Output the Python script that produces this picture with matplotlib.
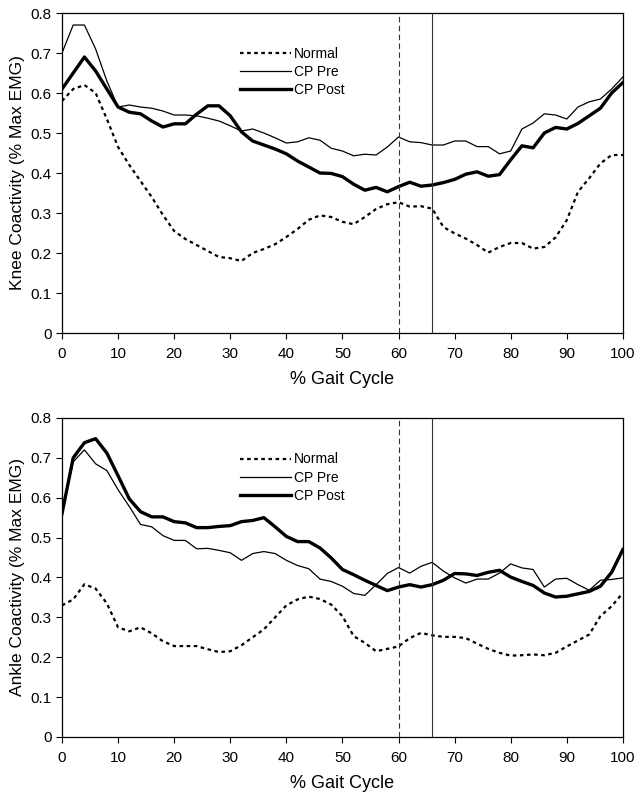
"""
Knee and ankle coactivity over the gait cycle: Normal vs CP Pre vs CP Post.
"""
import matplotlib
matplotlib.use("Agg")
import matplotlib.pyplot as plt
import numpy as np

plt.rcParams["font.family"] = ["Liberation Sans", "DejaVu Sans"]

# =============================================================================
# Data (every 2 % of the gait cycle)
# =============================================================================

gait = np.arange(0, 101, 2)

knee_normal = [0.58, 0.61, 0.62, 0.60, 0.535, 0.465, 0.42, 0.38, 0.34, 0.295,
               0.255, 0.235, 0.22, 0.205, 0.19, 0.187, 0.18, 0.20, 0.21, 0.222,
               0.24, 0.26, 0.283, 0.294, 0.29, 0.278, 0.272, 0.29, 0.31, 0.322,
               0.327, 0.316, 0.317, 0.311, 0.265, 0.249, 0.236, 0.22, 0.201, 0.215,
               0.225, 0.225, 0.211, 0.215, 0.239, 0.282, 0.353, 0.387, 0.424, 0.445,
               0.445]
knee_pre = [0.70, 0.77, 0.77, 0.71, 0.63, 0.565, 0.57, 0.565, 0.562, 0.555,
            0.545, 0.545, 0.543, 0.537, 0.53, 0.518, 0.505, 0.51, 0.50, 0.488,
            0.475, 0.478, 0.488, 0.482, 0.462, 0.455, 0.443, 0.447, 0.445, 0.465,
            0.49, 0.478, 0.476, 0.47, 0.47, 0.48, 0.48, 0.466, 0.466, 0.448,
            0.455, 0.51, 0.525, 0.548, 0.545, 0.535, 0.565, 0.578, 0.585, 0.61,
            0.64]
knee_post = [0.61, 0.65, 0.69, 0.655, 0.61, 0.565, 0.552, 0.548, 0.53, 0.515,
             0.523, 0.523, 0.547, 0.568, 0.568, 0.543, 0.503, 0.48, 0.47, 0.46,
             0.448, 0.43, 0.415, 0.40, 0.399, 0.391, 0.372, 0.357, 0.364, 0.353,
             0.366, 0.377, 0.367, 0.37, 0.376, 0.384, 0.397, 0.403, 0.392, 0.396,
             0.433, 0.468, 0.463, 0.50, 0.514, 0.51, 0.524, 0.543, 0.562, 0.60,
             0.626]

ankle_normal = [0.33, 0.345, 0.383, 0.372, 0.335, 0.275, 0.265, 0.275, 0.26, 0.24,
                0.228, 0.228, 0.228, 0.22, 0.213, 0.215, 0.23, 0.25, 0.27, 0.30,
                0.33, 0.345, 0.352, 0.346, 0.332, 0.303, 0.253, 0.236, 0.215, 0.221,
                0.227, 0.248, 0.261, 0.255, 0.251, 0.251, 0.248, 0.234, 0.221, 0.211,
                0.204, 0.205, 0.207, 0.205, 0.211, 0.227, 0.242, 0.257, 0.303, 0.328,
                0.361]
ankle_pre = [0.56, 0.69, 0.72, 0.685, 0.668, 0.62, 0.578, 0.533, 0.527, 0.505,
             0.493, 0.493, 0.472, 0.473, 0.468, 0.462, 0.443, 0.46, 0.465, 0.46,
             0.443, 0.43, 0.422, 0.396, 0.39, 0.378, 0.36, 0.355, 0.382, 0.41,
             0.425, 0.411, 0.428, 0.438, 0.416, 0.399, 0.386, 0.396, 0.396, 0.411,
             0.434, 0.424, 0.42, 0.376, 0.396, 0.398, 0.382, 0.368, 0.393, 0.395,
             0.399]
ankle_post = [0.56, 0.70, 0.738, 0.748, 0.712, 0.655, 0.597, 0.565, 0.552, 0.552,
              0.54, 0.537, 0.525, 0.525, 0.528, 0.53, 0.54, 0.543, 0.55, 0.527,
              0.503, 0.49, 0.49, 0.474, 0.449, 0.42, 0.407, 0.393, 0.38, 0.367,
              0.376, 0.382, 0.376, 0.382, 0.393, 0.41, 0.409, 0.405, 0.413, 0.418,
              0.401, 0.39, 0.38, 0.361, 0.351, 0.353, 0.359, 0.365, 0.378, 0.413,
              0.47]

# toe-off markers (% gait cycle)
TOE_OFF_NORMAL = 60
TOE_OFF_CP = 66

# =============================================================================
# Plot
# =============================================================================


def draw_panel(ax, normal, pre, post, ylabel, legend_y):
    ax.plot(gait, normal, color="black", linewidth=1.6,
            linestyle=(0, (1.6, 1.6)), label="Normal")
    ax.plot(gait, pre, color="black", linewidth=0.9, label="CP Pre")
    ax.plot(gait, post, color="black", linewidth=2.4, label="CP Post")

    ax.axvline(TOE_OFF_NORMAL, color="#333333", linewidth=0.8,
               linestyle=(0, (5, 3)))
    ax.axvline(TOE_OFF_CP, color="#333333", linewidth=0.8)

    ax.set_xlim(0, 100)
    ax.set_ylim(0, 0.8)
    ax.set_xticks(np.arange(0, 101, 10))
    ax.set_yticks(np.arange(0, 0.81, 0.1))
    ax.set_yticklabels(["0"] + [f"{v:.1f}" for v in np.arange(0.1, 0.81, 0.1)])
    ax.tick_params(direction="out", length=4, width=0.8, labelsize=11)
    ax.tick_params(axis="x", pad=6)
    for sp in ax.spines.values():
        sp.set_linewidth(0.9)
    ax.set_xlabel("% Gait Cycle", fontsize=13, labelpad=7)
    ax.set_ylabel(ylabel, fontsize=12.5, labelpad=4)

    ax.legend(loc="upper left", bbox_to_anchor=(0.317, legend_y),
              frameon=False, fontsize=10, handlelength=3.7,
              handletextpad=0.2, labelspacing=0.3,
              borderpad=0, borderaxespad=0)


fig = plt.figure(figsize=(6.41, 7.94), dpi=100)
ax_knee = fig.add_axes([0.0967, 0.5806, 0.875, 0.403])
ax_ankle = fig.add_axes([0.0967, 0.0718, 0.875, 0.4018])

draw_panel(ax_knee, knee_normal, knee_pre, knee_post,
           "Knee Coactivity (% Max EMG)", 0.895)
draw_panel(ax_ankle, ankle_normal, ankle_pre, ankle_post,
           "Ankle Coactivity (% Max EMG)", 0.892)

fig.savefig("out.png", dpi=100)
